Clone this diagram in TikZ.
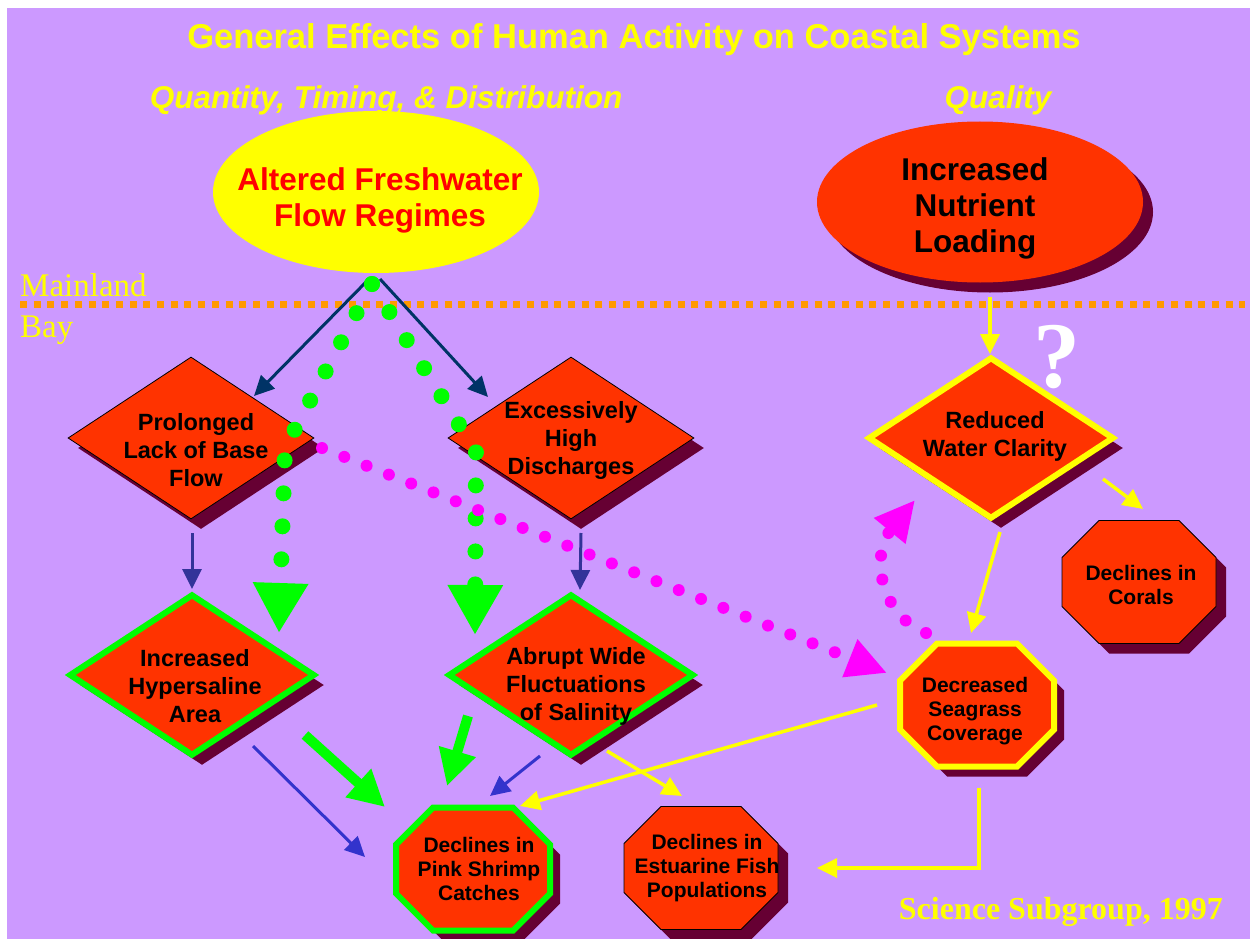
\documentclass[tikz,border=0pt]{standalone}
\usepackage{fontspec}
\setmainfont{Liberation Serif}
\setsansfont{Liberation Sans}
\usetikzlibrary{arrows.meta,calc,shapes.geometric,shadows}

\definecolor{bgpurple}{HTML}{CC99FF}
\definecolor{boxred}{HTML}{FF3300}
\definecolor{shadowc}{HTML}{660033}
\definecolor{navyc}{HTML}{003366}
\definecolor{dblue}{HTML}{333399}
\definecolor{mblue}{HTML}{3333CC}
\definecolor{lineorange}{HTML}{FF9900}
\definecolor{brightgreen}{HTML}{00FF00}
\definecolor{pureyellow}{HTML}{FFFF00}
\definecolor{puremagenta}{HTML}{FF00FF}
\definecolor{purered}{HTML}{FF0000}

% octagon round an (empty) named box: name, corner cut
\newcommand{\octagonat}[2]{($(#1.north west)+(#2,0)$) -- ($(#1.north east)+(-#2,0)$)
  -- ($(#1.north east)+(0,#2)$) -- ($(#1.south east)+(0,-#2)$)
  -- ($(#1.south east)+(-#2,0)$) -- ($(#1.south west)+(#2,0)$)
  -- ($(#1.south west)+(0,-#2)$) -- ($(#1.north west)+(0,#2)$) -- cycle}

\tikzset{
  boxshadow/.style={drop shadow={shadow xshift=10pt, shadow yshift=-10pt, fill=shadowc, opacity=1}},
  diam/.style={diamond, fill=boxred, inner sep=0pt, minimum width=246pt, minimum height=162pt, boxshadow},
  octbox/.style={rectangle, inner sep=0pt, outer sep=0pt, minimum width=154pt, minimum height=123pt},
  octshape/.style={fill=boxred, line join=miter, boxshadow},
  thinedge/.style={draw=black, line width=0.8pt},
  yedge/.style={draw=pureyellow, line width=6pt},
  gedge/.style={draw=brightgreen, line width=6pt},
  dtext/.style={font=\fontsize{23.5}{28}\selectfont\sffamily\bfseries, align=center, inner sep=0pt},
  otext/.style={font=\fontsize{21}{24}\selectfont\sffamily\bfseries, align=center, inner sep=0pt},
  etext/.style={font=\fontsize{31.5}{36}\selectfont\sffamily\bfseries, align=center, inner sep=0pt},
  heading/.style={font=\fontsize{31.5}{36}\selectfont\sffamily\bfseries\itshape, text=pureyellow, inner sep=0pt},
  placename/.style={font=\fontsize{33}{36}\selectfont, text=pureyellow, inner sep=0pt, anchor=base west},
  navyarr/.style={->, navyc, line width=3pt},
  darr/.style={->, dblue, line width=3pt},
  barr/.style={->, mblue, line width=3pt},
  yarr/.style={->, pureyellow, line width=3.5pt},
  garr/.style={-{Triangle[length=36pt,width=36pt]}, brightgreen, line width=10pt},
  gdots/.style={-{Triangle[length=50pt,width=52pt]}, brightgreen, line width=16pt, line cap=round, dash pattern=on 0pt off 33pt},
  mdots/.style={-{Triangle[length=40pt,width=38pt]}, puremagenta, line width=12pt, line cap=round, dash pattern=on 0pt off 24pt}
}

\begin{document}
\begin{tikzpicture}[x=1pt, y=-1pt, >={Triangle[length=20pt,width=19pt]}]
	\useasboundingbox (0,0) rectangle (1250,939);
	\fill[bgpurple] (7,8) rectangle (1250,939);

	% headings
	\node[font=\fontsize{34.5}{38}\selectfont\sffamily\bfseries, text=pureyellow, inner sep=0pt] (title) at (634,40) {General Effects of Human Activity on Coastal Systems};
	\node[heading] (qtd) at (386,100) {Quantity, Timing, \& Distribution};
	\node[heading] (qual) at (998,100) {Quality};

	% mainland / bay divide
	\node[placename] (mainland) at (20,296) {Mainland};
	\node[placename] (bay) at (20,337) {Bay};
	\draw[lineorange, line width=7pt, dash pattern=on 7pt off 6.7pt] (20,304) -- (1245,304);

	% causes
	\node[ellipse, fill=pureyellow, inner sep=0pt, minimum width=326pt, minimum height=162pt] (fw) at (376,192) {};
	\node[etext, text=purered] (fwt) at ($(fw)+(4,8)$) {Altered Freshwater\\Flow Regimes};
	\node[ellipse, fill=boxred, inner sep=0pt, minimum width=326pt, minimum height=161pt, boxshadow] (nl) at (980,202) {};
	\node[etext] (nlt) at ($(nl)+(-5,6)$) {Increased\\Nutrient\\Loading};

	% first effects
	\node[diam, thinedge] (d1) at (191,438) {};
	\node[dtext] (d1t) at ($(d1)+(5,12)$) {Prolonged\\Lack of Base\\Flow};
	\node[diam, thinedge] (d2) at (571,438) {};
	\node[dtext] (d2t) at ($(d2)+(0,2)$) {Excessively\\High\\Discharges};
	\node[diam, yedge] (wc) at (991,438) {};
	\node[dtext] (wct) at ($(wc)+(4,-2)$) {Reduced\\Water Clarity};
	\node[font=\fontsize{94}{100}\selectfont\bfseries, text=white, inner sep=0pt, anchor=base] (qm) at (1057,387) {?};

	% second effects
	\node[diam, gedge] (d4) at (192,675) {};
	\node[dtext] (d4t) at ($(d4)+(3,11)$) {Increased\\Hypersaline\\Area};
	\node[diam, gedge] (d5) at (571,675) {};
	\node[dtext] (d5t) at ($(d5)+(5,11)$) {Abrupt Wide\\Fluctuations\\of Salinity};
	\node[octbox] (sg) at (977,705) {};
	\draw[octshape, yedge] \octagonat{sg}{37};
	\node[otext] (sgt) at ($(sg)+(-2,6)$) {Decreased\\Seagrass\\Coverage};
	\node[octbox] (co) at (1139,582) {};
	\draw[octshape, thinedge] \octagonat{co}{37};
	\node[otext] (cot) at ($(co)+(2,3)$) {Declines in\\Corals};

	% resource declines
	\node[octbox] (ps) at (473,869) {};
	\draw[octshape, gedge] \octagonat{ps}{37};
	\node[otext] (pst) at ($(ps)+(6,0)$) {Declines in\\Pink Shrimp\\Catches};
	\node[octbox] (ef) at (701,868) {};
	\draw[octshape, thinedge] \octagonat{ef}{37};
	\node[otext] (eft) at ($(ef)+(6,0)$) {Declines in\\Estuarine Fish\\Populations};

	% links
	\draw[navyarr] ($(fw)+(-9,89)$) -- ($(d1)+(63,-42)$);
	\draw[navyarr] ($(fw)+(4,87)$) -- ($(d2)+(-83,-41)$);
	\draw[gdots] ($(fw)+(-4,92)$) -- ($(d1)+(94,10)$) -- ($(d4)+(87,-42)$);
	\draw[gdots] ($(fw)+(-4,92)$) -- ($(d2)+(-95,14)$) -- ($(d5)+(-96,-40)$);
	\draw[darr] ($(d1)+(1,95)$) -- ($(d4)+(0,-86)$);
	\draw[darr] ($(d2)+(10,95)$) -- ($(d5)+(9,-85)$);
	\draw[mdots] ($(d1)+(131,10)$) -- ($(sg)+(-90,-32)$);
	\draw[mdots] ($(sg)+(-51,-72)$) .. controls ($(sg)+(-97,-90)$) and ($(sg)+(-107,-150)$) .. ($(wc)+(-76,62)$);
	\draw[barr] ($(d4)+(61,71)$) -- ($(ps)+(-108,-12)$);
	\draw[barr] ($(d5)+(-31,81)$) -- ($(ps)+(17,-73)$);
	\draw[garr] ($(d4)+(113,60)$) -- ($(ps)+(-88,-62)$);
	\draw[garr] ($(d5)+(-103,41)$) -- ($(ps)+(-26,-83)$);
	\draw[yarr] ($(nl)+(10,95)$) -- ($(wc)+(-1,-84)$);
	\draw[yarr] ($(wc)+(112,41)$) -- ($(co)+(4,-73)$);
	\draw[yarr] ($(wc)+(9,94)$) -- ($(sg)+(-6,-72)$);
	\draw[yarr] ($(sg)+(-100,0)$) -- ($(ps)+(47,-63)$);
	\draw[yarr] ($(d5)+(36,76)$) -- ($(ef)+(-19,-72)$);
	\draw[yarr] ($(sg)+(2,83)$) |- ($(ef)+(116,0)$);

	\node[font=\fontsize{32}{36}\selectfont\bfseries, text=pureyellow, inner sep=0pt, anchor=base east] (credit) at (1223,919) {Science Subgroup, 1997};
\end{tikzpicture}
\end{document}
